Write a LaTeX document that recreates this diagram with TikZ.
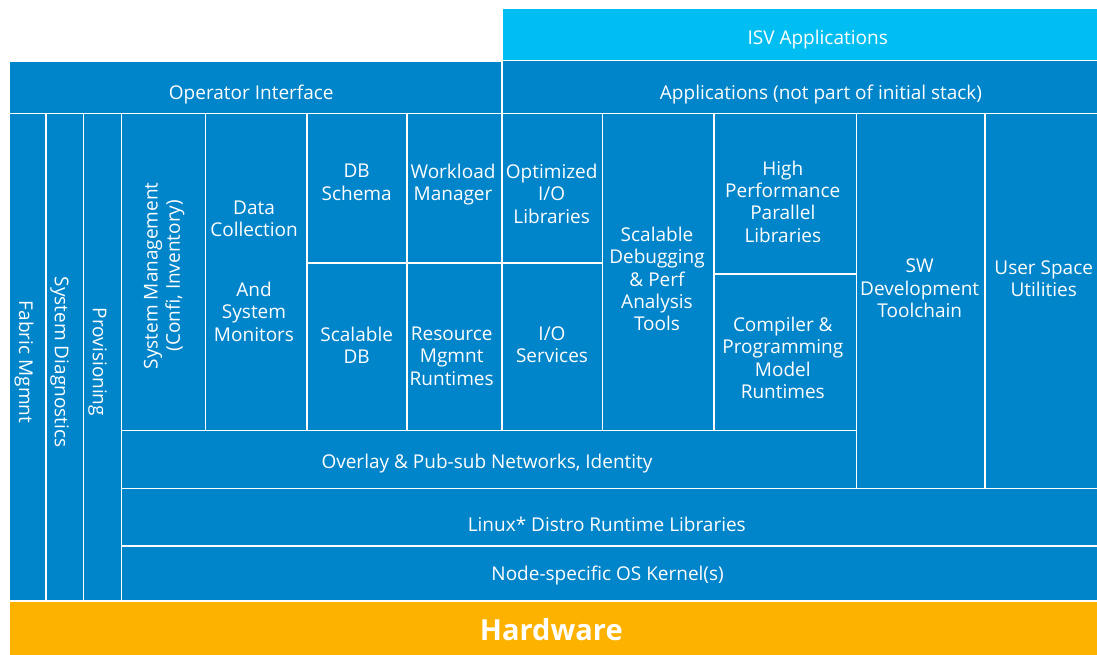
\documentclass[tikz,border=0pt]{standalone}
\usepackage{fontspec}
\setmainfont{Open Sans}
\definecolor{stackblue}{RGB}{0,132,202}
\definecolor{isvblue}{RGB}{0,190,242}
\definecolor{hwgold}{RGB}{253,178,0}
\tikzset{
  blk/.style={draw=white, line width=1.6pt, fill=stackblue, inner sep=0pt, outer sep=0pt},
  isvblk/.style={blk, fill=isvblue},
  hwblk/.style={blk, fill=hwgold},
  txt/.style={text=white, font=\fontsize{19}{22.3}\selectfont, align=center, inner sep=0pt},
  hwtxt/.style={text=white, font=\fontsize{29}{34}\selectfont\bfseries, inner sep=0pt},
}
% \layer{name}{x1}{y1}{x2}{y2}{style}: a block spanning the given corners
\newcommand\layer[6]{%
  \node[#6, minimum width={(#4-#2)*1pt}, minimum height={(#5-#3)*1pt}]
    (#1) at ({(#2+#4)/2},{(#3+#5)/2}) {};}
\begin{document}
\begin{tikzpicture}[x=1pt, y=-1pt]
\useasboundingbox (0,0) rectangle (1097,655);

% top bands
\layer{isv}{502}{8}{1099}{60.5}{isvblk}
\layer{opif}{9}{61}{502}{113.5}{blk}
\layer{apps}{502}{60.5}{1099}{113.5}{blk}

% vertical management columns
\layer{fabric}{9}{113.5}{46}{601}{blk}
\layer{sysdiag}{46}{113.5}{83.5}{601}{blk}
\layer{prov}{83.5}{113.5}{121.3}{601}{blk}
\layer{sysmgmt}{121.3}{113.5}{205.3}{430.5}{blk}
\layer{datacoll}{205.3}{113.5}{307}{430.5}{blk}

% middle stack
\layer{dbschema}{307}{113.5}{407}{262.7}{blk}
\layer{scaldb}{307}{262.7}{407}{430.5}{blk}
\layer{workload}{407}{113.5}{502}{262.7}{blk}
\layer{resmgmt}{407}{262.7}{502}{430.5}{blk}
\layer{optio}{502}{113.5}{602.3}{262.7}{blk}
\layer{ioserv}{502}{262.7}{602.3}{430.5}{blk}
\layer{debug}{602.3}{113.5}{714}{430.5}{blk}
\layer{hppl}{714}{113.5}{856.5}{273.7}{blk}
\layer{compiler}{714}{273.7}{856.5}{430.5}{blk}
\layer{swdev}{856.5}{113.5}{985}{488.5}{blk}
\layer{userspace}{985}{113.5}{1099}{488.5}{blk}
\layer{overlay}{121.3}{430.5}{856.5}{488.5}{blk}

% base layers
\layer{linux}{121.3}{488.5}{1099}{546}{blk}
\layer{kernel}{121.3}{546}{1099}{601}{blk}
\layer{hw}{9}{601}{1099}{657}{hwblk}

% labels
\node[txt, anchor=base] (isvT) at (817.7,45) {ISV Applications};
\node[txt, anchor=base] (opifT) at (251.3,99.3) {Operator Interface};
\node[txt, anchor=base] (appsT) at (821,99.5) {Applications (not part of initial stack)};

\node[txt, rotate=-90] (fabricT) at (24,362) {Fabric Mgmnt};
\node[txt, rotate=-90] (sysdiagT) at (59.5,362) {System Diagnostics};
\node[txt, rotate=-90] (provT) at (97.5,362) {Provisioning};
\node[txt, rotate=90] (sysmgmtT) at (164.2,275.8) {System Management\\(Confi, Inventory)};

\node[txt, anchor=north] (datacollT) at (254,200.7) {Data\\Collection\\[37.5pt]And\\System\\Monitors};
\node[txt, anchor=north] (dbschemaT) at (356.7,164) {DB\\Schema};
\node[txt, anchor=north] (workloadT) at (453,164) {Workload\\Manager};
\node[txt, anchor=north] (optioT) at (551.7,164) {Optimized\\I/O\\Libraries};
\node[txt, anchor=north] (scaldbT) at (356.7,326.7) {Scalable\\DB};
\node[txt, anchor=north] (resmgmtT) at (451.7,326.7) {Resource\\Mgmnt\\Runtimes};
\node[txt, anchor=north] (ioservT) at (552,326.7) {I/O\\Services};
\node[txt, anchor=north] (debugT) at (657,227) {Scalable\\Debugging\\\& Perf\\Analysis\\Tools};
\node[txt, anchor=north] (hpplT) at (782.8,160.7) {High\\Performance\\Parallel\\Libraries};
\node[txt, anchor=north] (compilerT) at (782.8,317) {Compiler \&\\Programming\\Model\\Runtimes};
\node[txt, anchor=north] (swdevT) at (919.7,259) {SW\\Development\\Toolchain};
\node[txt, anchor=north] (userspaceT) at (1043.7,260.7) {User Space\\Utilities};

\node[txt, anchor=base] (overlayT) at (487,468.3) {Overlay \& Pub-sub Networks, Identity};
\node[txt, anchor=base] (linuxT) at (606.8,531) {Linux* Distro Runtime Libraries};
\node[txt, anchor=base] (kernelT) at (607.6,580.7) {Node-specific OS Kernel(s)};
\node[hwtxt, anchor=base] (hwT) at (551.3,640.7) {Hardware};
\end{tikzpicture}
\end{document}
